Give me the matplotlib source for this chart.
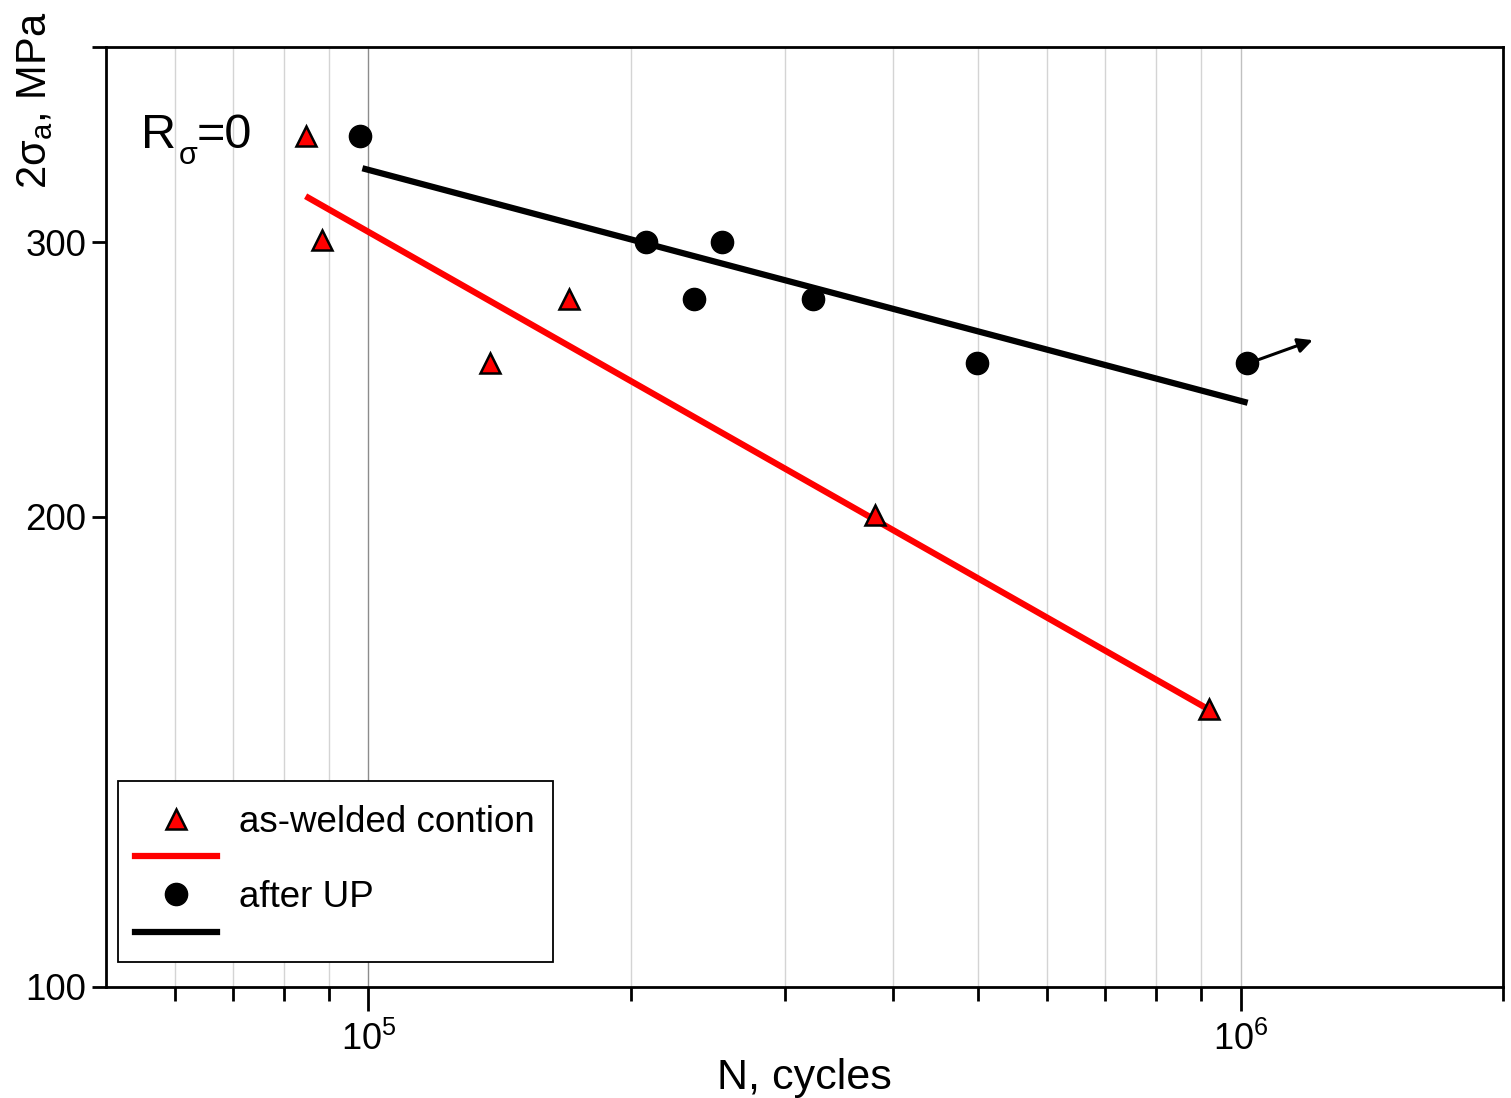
import numpy as np
import matplotlib.pyplot as plt
from matplotlib.lines import Line2D
from matplotlib.patches import Rectangle
from matplotlib.ticker import FixedLocator, NullFormatter, FuncFormatter

plt.rcParams['font.family'] = ['Liberation Sans', 'DejaVu Sans']
plt.rcParams['mathtext.fontset'] = 'custom'
plt.rcParams['mathtext.rm'] = 'Liberation Sans'
plt.rcParams['mathtext.it'] = 'Liberation Sans:italic'
plt.rcParams['mathtext.bf'] = 'Liberation Sans:bold'

# as-welded condition: test points and fitted S-N line
aw_N = [84700, 88400, 138000, 170000, 381000, 919000]
aw_S = [351, 301, 251, 276, 200.6, 150.6]
aw_fit_N = [84700, 919000]
aw_fit_S = [321, 150.6]

# after ultrasonic peening
up_N = [97900, 208000, 236000, 254000, 323000, 499000, 1016000]
up_S = [351, 300, 276, 300, 276, 251, 251]
up_fit_N = [98400, 1019000]
up_fit_S = [334.5, 236.7]

# run-out arrow
runout_from = (1.05e6, 252.3)
runout_to = (1.21e6, 259.6)

y_ticks = [100, 200, 300, 400]
y_labels = ['100', '200', '300', '']

W, H = 1511, 1098
fig = plt.figure(figsize=(W/100, H/100), dpi=100)
ax = fig.add_axes([106/W, 1-987/H, 1397/W, 940/H])
ax.set_xscale('log')
ax.set_yscale('log')
ax.set_xlim(5e4, 2e6)
ax.set_ylim(100, 400)

# vertical grid
minor_x = [6e4, 7e4, 8e4, 9e4] + [k*1e5 for k in range(2, 10)]
for x in minor_x:
    ax.axvline(x, color='#d4d4d4', lw=1.0, zorder=0)
ax.axvline(1e5, color='#8c8c8c', lw=1.0, zorder=0)
ax.axvline(1e6, color='#c0c0c0', lw=1.0, zorder=0)

ax.plot(aw_fit_N, aw_fit_S, color='#ff0000', lw=4.5, solid_capstyle='butt', zorder=2)
ax.plot(up_fit_N, up_fit_S, color='black', lw=4.5, solid_capstyle='butt', zorder=2)
ax.plot(aw_N, aw_S, ls='none', marker='^', ms=15, mfc='#ff0000', mec='black', mew=1.8, zorder=3)
ax.plot(up_N, up_S, ls='none', marker='o', ms=16, mfc='black', mec='black', zorder=3)

ax.annotate('', xy=runout_to, xytext=runout_from,
            arrowprops=dict(arrowstyle='-|>', color='black', lw=2.2, mutation_scale=22,
                            shrinkA=0, shrinkB=0))

# R_sigma = 0 annotation, subscript placed by hand
fig.text(141/W, 1-148/H, 'R', fontsize=35, va='baseline', ha='left')
fig.text(179/W, 1-164/H, 'σ', fontsize=22, va='baseline', ha='left')
fig.text(197/W, 1-148/H, '=0', fontsize=35, va='baseline', ha='left')

# ticks
ax.yaxis.set_major_locator(FixedLocator(y_ticks))
ax.yaxis.set_major_formatter(FuncFormatter(
    lambda v, p: y_labels[y_ticks.index(int(round(v)))] if int(round(v)) in y_ticks else ''))
ax.yaxis.set_minor_locator(FixedLocator([]))
ax.xaxis.set_major_locator(FixedLocator([1e5, 1e6]))
ax.xaxis.set_major_formatter(FuncFormatter(lambda v, p: r'$\mathregular{10^{%d}}$' % round(np.log10(v))))
ax.xaxis.set_minor_locator(FixedLocator(minor_x + [2e6]))
ax.xaxis.set_minor_formatter(NullFormatter())
ax.tick_params(axis='x', which='major', direction='out', length=17, width=2, pad=8, labelsize=26)
ax.tick_params(axis='x', which='minor', direction='out', length=10, width=2)
ax.tick_params(axis='y', which='major', direction='out', length=10, width=2, pad=4, labelsize=26.5)
for s in ax.spines.values():
    s.set_linewidth(2.0)

ax.set_xlabel('N, cycles', fontsize=31, labelpad=0)
fig.text(35/W, 1-100/H, r'2σ$_{\mathregular{a}}$, MPa', rotation=90, fontsize=30,
         ha='center', va='center')

# legend box drawn separately so the rows can sit where the original has them
box = Rectangle((118/W, 1-962/H), 435/W, 181/H, transform=fig.transFigure,
                facecolor='white', edgecolor='black', lw=1.3, zorder=4.5, clip_on=False)
ax.add_patch(box)

handles = [
    Line2D([], [], ls='none', marker='^', ms=15, mfc='#ff0000', mec='black', mew=1.8),
    Line2D([], [], color='#ff0000', lw=4.5),
    Line2D([], [], ls='none', marker='o', ms=16, mfc='black', mec='black'),
    Line2D([], [], color='black', lw=4.5),
]
labels = ['as-welded contion', ' ', 'after UP', ' ']
leg = ax.legend(handles, labels, loc='lower left', bbox_to_anchor=(0.0086, 0.0191),
                borderaxespad=0, fontsize=26.5, frameon=False,
                handlelength=2.25, handletextpad=0.6,
                labelspacing=0.07, borderpad=0.45)
leg.set_zorder(5)

fig.savefig('out.png', dpi=100)
